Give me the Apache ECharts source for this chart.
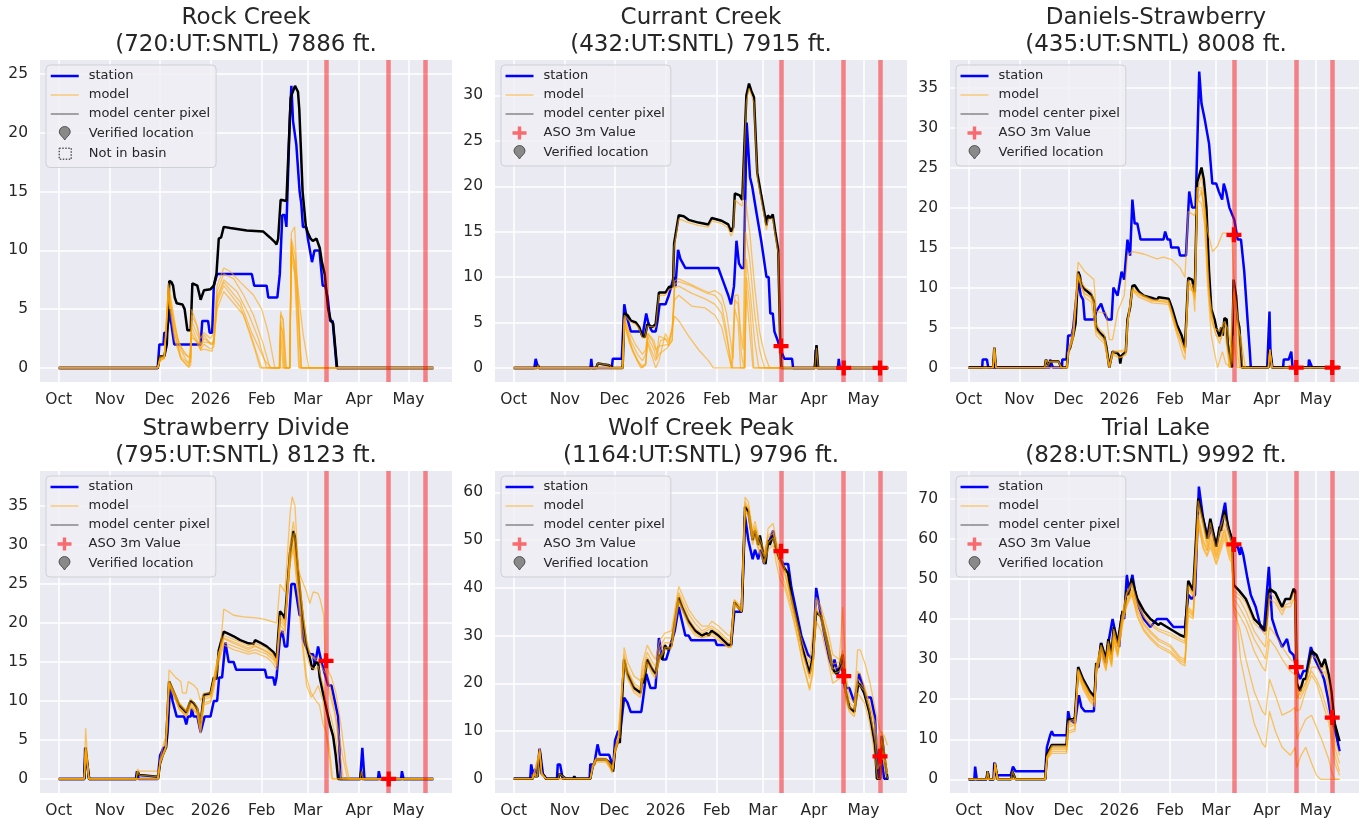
<!DOCTYPE html>
<html><head><meta charset="utf-8">
<script src="https://cdn.jsdelivr.net/npm/echarts@6/dist/echarts.min.js"></script>
<style>html,body{margin:0;padding:0;background:#fff}#chart{width:1359px;height:825px}</style>
</head><body><div id="chart"></div>
<script>
// x values are days since 2025-10-01
const monthTicks = ['2025-10-01','2025-11-01','2025-12-01','2026-01-01','2026-02-01','2026-03-01','2026-04-01','2026-05-01'];
const monthLabels = ['Oct','Nov','Dec','2026','Feb','Mar','Apr','May'];
const asoDates = ['2026-03-12','2026-04-19','2026-05-11'];

const titles = [
  'Rock Creek\n(720:UT:SNTL) 7886 ft.',
  'Currant Creek\n(432:UT:SNTL) 7915 ft.',
  'Daniels-Strawberry\n(435:UT:SNTL) 8008 ft.',
  'Strawberry Divide\n(795:UT:SNTL) 8123 ft.',
  'Wolf Creek Peak\n(1164:UT:SNTL) 9796 ft.',
  'Trial Lake\n(828:UT:SNTL) 9992 ft.'
];
const rockYTicks = [0,5,10,15,20,25];
const currantYTicks = [0,5,10,15,20,25,30];
const danielsYTicks = [0,5,10,15,20,25,30,35];
const strawYTicks = [0,5,10,15,20,25,30,35];
const wolfYTicks = [0,10,20,30,40,50,60];
const trialYTicks = [0,10,20,30,40,50,60,70];

const legendRock = ['station','model','model center pixel','Verified location','Not in basin'];
const legendAso = ['station','model','model center pixel','ASO 3m Value','Verified location'];

// ---------- Rock Creek ----------
const rockStation = [[0,0],[60,0],[61,2],[63.5,2],[64,3],[65.5,3],[67.5,5],[68,4],[69,4],[70,2],[86,2],[87,4],[90.5,4],[91.5,3],[93,3],[94,7],[96,8],[117,8],[118.5,7],[126,7],[127,6],[132.5,6],[134,8],[135.5,13],[137,13],[138,12],[140,21],[141,24],[142,21],[143,21],[144,19],[146,15],[147,14],[148,12],[150,12],[151,11],[153.5,9],[154,9],[155,10],[158,10],[160,7],[161.5,7],[163,6],[164.5,4],[166,4],[168.5,0],[227,0]];
const rockCenter = [[0,0],[60,0],[61.4,1],[64,1],[65.5,2],[67,7.4],[68.3,7.3],[69.3,7],[70.3,6],[71.5,5.5],[75,5.4],[76.3,5],[78,3.2],[80,3.2],[81,7.2],[84,7],[86,5.8],[88,6.6],[92,6.7],[94,7],[95.6,8],[97,11],[98.4,11.1],[100,12],[104,11.9],[114,11.7],[124,11.6],[128,11.1],[131,10.7],[132,10.5],[133,11],[134.5,14.3],[138,14.2],[140.6,23],[143.2,24],[145,23.5],[145.8,22],[147.8,15],[149.8,12],[151,11.5],[152.6,11],[154,10.8],[156.2,11],[158.2,10.2],[159.5,9],[161.2,8],[163.3,5],[164.9,4],[166.3,3.8],[168.7,0],[227,0]];
const rockModel = [
  [[0,0],[60,0],[61.4,0.8],[64,1],[66.5,7.2],[69,5],[72,2.5],[76,1.2],[80,0.8],[80.5,5],[83,4],[86,2.5],[88,3],[92,2.5],[94,3],[96,7],[100,8.5],[104,8.2],[110,7.3],[118,6.2],[123,5],[127,3],[131,0],[133.5,0],[134.5,4.5],[136,4.2],[138,0],[140,0],[141,11.5],[143,12],[145,6],[147,0],[227,0]],
  [[0,0],[60,0],[61.4,1],[64,1],[66.5,7],[69,4.5],[73,2],[78,1],[80,1],[80.5,4.5],[84,3.5],[86,2],[88,2.5],[93,2],[94,2.5],[96,6.5],[100,8],[106,7.6],[112,6.2],[118,4.5],[124,2],[128,0],[134,0],[134.5,4.8],[136,4],[137.5,0],[140,0],[141,11],[143.5,9.5],[145.5,4],[147,0],[227,0]],
  [[0,0],[60,0],[61.4,0.8],[64,0.8],[66.5,6.8],[70,3.5],[74,1.5],[78,0.5],[80,0.5],[80.5,4],[85,2.5],[86,1.5],[88,2.8],[92,2],[94,2],[96,6],[100,7.5],[108,6.5],[115,4.6],[121,2.5],[126,0],[134,0],[134.5,3.5],[136,3],[137,0],[140,0],[141,10.5],[144,8],[148,3],[151.5,0],[227,0]],
  [[0,0],[60,0],[61.4,0.6],[64,0.8],[66.5,6.5],[70,3],[74,1],[79,0.3],[80,0.3],[80.5,3.5],[86,1.6],[88,2],[92,1.6],[94,1.8],[96,5.5],[100,7],[110,5.2],[116,3],[121,0.8],[123,0],[134,0],[134.5,4],[135.5,3],[136.5,0],[140,0],[141,10],[143,9],[146,0],[227,0]],
  [[0,0],[60,0],[61.4,0.7],[64,0.8],[66.5,6],[70,2.5],[74,0.8],[78,0.2],[80,0.2],[80.5,3],[86,1.5],[88,1.6],[93,1.4],[94,1.5],[96,5],[100,6.5],[112,4.5],[119,1.5],[122,0],[140,0],[141,9.5],[143,8],[145.5,0],[227,0]],
  [[0,0],[60,0],[61.4,0.8],[64,0.9],[66.5,6.2],[70,3.2],[74,0.8],[79,0],[80,0],[80.5,2.6],[86,2],[88,2.2],[94,2.1],[96,5.8],[100,7.3],[110,5.6],[117,3],[125,0.6],[129,0],[134,0],[134.5,3],[136,0],[140,0],[141,10.8],[144,7],[147,0],[227,0]]
];

// ---------- Currant Creek ----------
const currantStation = [[0,0],[12.5,0],[13.3,1],[14,1],[14.8,0],[46.5,0],[47,1],[47.6,0],[59.5,0],[60,1],[65.5,1],[67,7],[68,6],[69.5,5],[71,4],[77,4],[78,3.5],[79,3.5],[80.3,6],[81.5,5],[83,4.3],[84,4],[86,4],[87,5],[88.4,7],[92,7],[94,8],[97,10],[98,9],[99.6,13],[101,12],[102.5,11.5],[104,11],[124,11],[126,10],[128,9],[130,8],[131.7,7],[133.5,9],[135,14],[136.5,11.5],[138,11],[139.5,11],[141.2,27],[143.2,21],[144.5,20],[147.2,17],[150,14],[153.2,10],[154.5,10],[155.5,6],[157,6],[158,4],[160,3],[161,2.4],[164,1],[168.7,1],[169.3,0],[182.5,0],[183,2],[183.7,0],[196.5,0],[197,1],[197.6,0],[227,0]];
const currantCenter = [[0,0],[14,0],[14.7,0.3],[15.5,0],[50,0],[51,0.5],[54,0.4],[58,0.3],[59.4,0],[66,0],[67,6],[69,5.8],[71,5.2],[74,5],[76,4.5],[78,3.5],[79.5,3.4],[81,4.8],[84,4.5],[86,4.8],[88,8.3],[92,8.3],[94,8.9],[96.5,9],[97.2,13.7],[98.4,13.8],[100,16.8],[103,16.7],[106,16.3],[112,16],[118,15.8],[120,16.5],[126,16.2],[130,15.8],[131.7,15],[133,15.5],[134,19.2],[137,19],[138.5,18.5],[141,30],[142.6,31.3],[144,30.5],[145.6,29.8],[147.6,21.5],[150,19],[152,17],[153.2,15.7],[154,16.8],[155.6,16.5],[157,16.9],[158.5,15],[160.3,13],[161.5,3],[162.2,0],[182.5,0],[183.5,2.5],[184.5,0],[227,0]];
const currantModel = [
  [[0,0],[14,0],[14.7,0.3],[15.5,0],[50,0],[51,0.5],[58,0.3],[59.4,0],[66,0],[67,5.8],[71,5],[74,4.8],[76,4.3],[78,3.3],[79.5,3.3],[81,4.6],[86,4.5],[88,8],[92,8],[94,8.6],[96.5,8.8],[97.2,13.3],[98.4,13.5],[100,16.4],[106,16],[112,15.7],[118,15.5],[120,16.2],[126,15.9],[130,15.4],[131.7,14.5],[133,15],[134,18.5],[138.5,17.8],[141,29.3],[142.6,30.8],[145.6,29.2],[147.6,21],[150,18.5],[152,16.5],[153.2,15.2],[154,16.3],[157,16.4],[158.5,14.6],[160.3,12.5],[161.5,2],[162.2,0],[182.5,0],[183.5,2.2],[184.5,0],[227,0]],
  [[0,0],[66,0],[67,5.6],[70,4],[74,2.5],[78,1.5],[80,2],[81,3.8],[84,3],[86,2],[88,2.4],[94,2.6],[96,3],[97.5,9.6],[100,9.8],[106,9.3],[112,8.8],[118,8.3],[122,8.5],[126,8],[129,6],[131,3.5],[133,1],[134,8],[136,8],[137.5,4],[139,2],[140.5,18.5],[143,15],[146,9],[149,4],[152,1.5],[155,0],[227,0]],
  [[0,0],[66,0],[67,5.4],[71,3],[75,1.5],[78,0.8],[80,1.5],[81,3.5],[85,2],[86.5,1],[88,3.5],[92,3.2],[94,2.8],[96,4],[97.5,9.2],[100,9.5],[108,9],[116,8.3],[122,8],[126,7],[129,4],[131,1],[132,0],[134,7.5],[136,7],[138,1.5],[139.5,0],[140.5,15],[143,12],[146,6],[149,2],[152,0],[227,0]],
  [[0,0],[66,0],[67,5.2],[72,2],[76,0.5],[78,0],[80,0.5],[81,3],[86,0.8],[88,1.5],[93,2.2],[96,3],[97.5,8.8],[100,9],[108,8.2],[116,7.6],[122,7],[126,6],[130,2.5],[132.5,0],[134,6.5],[136,5],[137.5,0],[140,0],[141,12],[143.5,8],[146,3],[148.5,0],[227,0]],
  [[0,0],[66,0],[67,5],[70,2.8],[75,0.8],[78,0.2],[80,0.5],[81,2.8],[86,0],[88,0.8],[92,3.8],[94,3],[96,4.5],[97.5,7.5],[100,8],[108,6.8],[116,6.6],[122,5.8],[126,4.5],[130,1.5],[132,0],[140,0],[141,10],[143,7],[145.5,0],[227,0]],
  [[0,0],[66,0],[67,4.8],[72,1.8],[77,0],[80,0.3],[81.5,3.8],[85,3],[87,1.5],[89,3],[92,3.2],[94,2.4],[97.5,5.7],[100,5.2],[106,3.5],[112,2],[118,0.8],[121,0],[140,0],[141,8.5],[143,4],[145,0],[227,0]]
];
const currantAso = [[162,2.4],[200,0],[222,0]];

// ---------- Daniels-Strawberry ----------
const danielsStation = [[0,0],[8.3,0],[8.6,1],[11.2,1],[12,0],[49.5,0],[49.8,1],[50.8,1],[51.5,0],[57,0],[57.2,1],[59.8,1],[60.8,4],[62.9,4],[63.9,5],[66.9,11],[68.5,9],[69.9,8.5],[70.9,6],[76.5,6],[77.9,7],[80.9,8],[82.5,7],[84.9,6],[87.3,6],[88.4,10],[91,9],[93.4,12],[95,11],[97,16],[98.6,14],[100,21],[101.4,18],[103,18],[105,16],[119,16],[120,17],[121.5,16],[123.1,16],[123.7,15],[128.1,15],[129.1,14],[132.7,14],[134.7,22],[136.5,20],[138.6,20],[140.8,37],[142.2,33],[144.2,31],[146.8,28],[148.8,23],[151.2,23],[152.8,22],[154.8,21],[155.8,23],[157.2,22],[159.2,20],[161.2,19],[162.2,18.5],[164.3,16],[166.3,16],[168.3,12],[170.3,6],[171.7,2],[172.3,0],[182.3,0],[183.7,7],[184.3,2],[185.5,0],[192,0],[192.4,1],[195.4,1],[197,2],[197.8,0],[207.5,0],[207.8,1],[209,1],[209.8,0],[227,0]];
const danielsCenter = [[0,0],[15,0],[15.7,2.5],[16.7,0],[46.5,0],[47.2,1],[48.8,0.3],[49.8,0.8],[54.8,0.8],[56.8,0],[60,0],[60.8,2],[62,2.5],[63.9,4],[65.3,5.5],[66.9,12],[67.9,11.5],[68.9,10.3],[70.9,9.8],[74.9,9.1],[76.5,8.3],[77.9,5],[79.9,4.4],[82.9,3.8],[84.2,2.5],[85.9,0],[86.9,0],[87.9,2],[91,1.8],[92,1.5],[92.6,0.5],[93.4,1.5],[96,2],[97,6],[98.6,7.5],[100,10.2],[101.4,10.3],[104,9.5],[107,9],[112,8.7],[115,8.5],[116,8.8],[122.1,8.6],[124.1,7.5],[127.1,5.4],[130.1,4],[132.1,2.5],[134.1,11.2],[136.5,11],[138.1,9.4],[139.6,23.2],[142.2,25],[143.6,23.5],[145.2,20],[146.8,12],[148.2,7.3],[150.2,6],[151.2,5],[153.2,3.9],[154.2,5],[155.2,4],[156.2,6.2],[157.6,6],[158.2,3],[160.8,0],[161.8,11],[163.3,9],[164.3,6],[165.3,5],[166.9,0],[183,0],[183.9,2.3],[185.3,0],[227,0]];
const danielsModel = [
  [[0,0],[15,0],[15.7,2.5],[16.7,0],[46.5,0],[47.2,1],[48.8,0.3],[49.8,0.8],[54.8,0.8],[56.8,0],[60,0],[60.8,2],[63.9,5],[66.9,13.2],[70.9,12],[74.9,11.3],[76.5,11],[77.9,7],[84,6.8],[85.9,3.5],[87.9,3.5],[91,7],[95,9],[97,14],[100,14.5],[107,14.2],[115,13.6],[119,13.8],[124,13.5],[129,12.5],[132.1,11.3],[134.1,19.5],[138.1,19],[140,21],[142.2,22],[144,20],[146,17],[149,14.5],[152,15.2],[155,16.8],[158,16.8],[160.8,16],[162.5,8],[164,2],[165.5,0],[183,0],[183.9,2.3],[185.3,0],[227,0]],
  [[0,0],[15,0],[15.7,2.5],[16.7,0],[46.5,0],[47.2,0.9],[49.8,0.7],[54.8,0.7],[56.8,0],[60,0],[60.8,1.8],[63.9,3.8],[66.9,11.7],[68.9,10],[70.9,9.3],[74.9,8.6],[76.5,7.8],[77.9,4.5],[82.9,3.3],[85.9,0],[87.9,1.8],[92,1.3],[93.4,1.3],[96,1.8],[97,5.6],[100,9.8],[104,9.1],[112,8.3],[116,8.4],[122.1,8.2],[127.1,4.8],[132.1,1.8],[134.1,10.6],[137,10.3],[138.1,8.5],[139.6,22.5],[142.2,22],[144,20],[146,12],[148.2,6.3],[151.2,4],[153.2,3],[156.2,5.5],[157.6,5],[159,0],[161.8,9.5],[163.3,8],[166,0],[183,0],[183.9,2.2],[185.3,0],[227,0]],
  [[0,0],[15,0],[15.7,2.4],[16.7,0],[60,0],[60.8,1.8],[63.9,3.5],[66.9,11.5],[70.9,8.8],[74.9,8.2],[77.9,4],[82.9,3],[85.9,0],[87.9,1.6],[92,1.2],[96,1.6],[97,5.3],[100,9.6],[104,8.8],[112,8.1],[122.1,7.9],[127.1,4.2],[131,1.5],[132.1,1],[134.1,10],[137,9.5],[138.1,7],[139.6,21],[142.2,20.5],[144,18],[146,10],[148.2,4],[150,2],[152,0],[155,2],[157,0.5],[160,0],[161.8,4],[164,0],[183,0],[183.9,2],[185.3,0],[227,0]],
  [[0,0],[15,0],[15.7,2.4],[16.7,0],[60,0],[60.8,2],[63.9,4.2],[66.9,11.8],[68.9,10.8],[70.9,10],[74.9,9.5],[76.5,8.5],[77.9,5.5],[80,4.8],[82.9,4.2],[84.5,2],[85.9,0],[87.9,2],[96,2.2],[97,5.8],[100,10],[104,9.3],[112,8.5],[122.1,8.4],[127.1,5],[132.1,2],[134.1,11],[138.1,8.8],[139.6,22],[142.2,24],[144,21],[146,11],[148.2,6],[151.2,4],[154,3.5],[156.2,5],[158,2],[159.5,0],[162,10],[165,5],[167.5,0],[183,0],[183.9,2.3],[185.3,0],[227,0]],
  [[0,0],[15,0],[15.7,2.3],[16.7,0],[60,0],[60.8,1.9],[63.9,4],[66.9,11.3],[70.9,9.2],[74.9,8.9],[76.5,8],[77.9,4.7],[82.9,3.5],[85.9,0.3],[87.9,1.9],[96,2],[97,5.5],[100,9.7],[106,9],[112,8.4],[122.1,8.1],[127.1,4.5],[132.1,2.2],[134.1,10.8],[138.1,9],[139.6,22.5],[142.2,22.5],[145,17],[147,9],[150,5],[153,4.5],[156.2,5.8],[158,5],[160,3],[161.5,0.5],[163,6],[166,4],[169,0],[183,0],[183.9,2.2],[185.3,0],[227,0]]
];
const danielsAso = [[162,16.6],[200,0],[222,0]];

// ---------- Strawberry Divide ----------
const strawStation = [[0,0],[15.5,0],[16,4],[17,4],[18.5,0],[46.8,0],[47.4,1],[48.4,0],[60,0],[61.4,3],[63.5,4],[65,4],[66,6],[67.5,12],[69,10],[71.5,8],[76,8],[77.3,7],[78.3,8],[80,8],[80.7,9],[81.7,8],[84,8],[86,6],[88.4,8],[92,8],[94,10],[96,10],[97.2,13],[99,13],[101,17.5],[103,15],[106,15],[107.6,14],[125,14],[126,13],[130,13],[131,12],[132,13],[134,18],[135.5,19],[137,17],[138.5,17],[141,25],[143,25],[146,21],[147.5,21],[148,18],[149.8,17],[152.2,16],[154.2,16],[155.2,14.5],[157.2,17],[159.2,15],[160.6,14],[163.3,12],[165.3,12],[167.3,10],[169.3,8],[170.3,3],[170.7,0],[182.7,0],[184,4],[185.3,0],[193.5,0],[194,1],[195,0],[207.5,0],[208,1],[209,0],[227,0]];
const strawCenter = [[0,0],[15.5,0],[16.3,4],[18.3,0],[47,0],[47.8,1],[48.8,0.5],[49.8,0.3],[59.8,0.3],[60.2,0],[61.4,2],[62.9,3],[64.9,4],[66.9,12.5],[68.9,11.5],[70.9,10.5],[72.9,9.5],[77.3,8.5],[78.5,8.5],[79.9,10],[81.9,9.7],[83.9,9],[85.9,7],[88,10.8],[92,11],[94,13],[95.6,12.8],[97,16.5],[98,16.5],[100,18.9],[102,18.7],[106,18.3],[110,17.8],[115,17.4],[118,17.3],[119,17.8],[122,17.5],[126,17],[130,16.3],[132.1,15.5],[134.1,21.5],[136.1,21],[137.1,20.5],[140.2,29],[142.2,31.8],[143.2,31],[145.2,26],[148.2,20],[150.2,17],[152.2,15.5],[153.8,14],[155.2,14.8],[157.2,15],[158.2,13],[160.2,11],[162.2,9],[164.3,7],[166.3,5.5],[167.9,3],[169.3,0],[182.8,0],[183.3,1],[184,0],[227,0]];
const strawModel = [
  [[0,0],[15.5,0],[16.3,6.5],[18.3,0],[47,0],[47.8,1],[49.8,1],[59.8,1],[60.2,0],[61.4,2.5],[62.9,4],[64.9,5.5],[66.9,14],[70.9,13],[74,12.5],[75,11],[77.3,11],[78.5,12.5],[81.9,12],[84,11.5],[85.9,10],[88,11],[92,11],[94,13],[96,15],[97.5,15.5],[100,21.8],[106,21],[112,20.8],[118,20.7],[122,20.6],[126,20.4],[132.1,20],[134.1,25],[137.1,24],[140.2,34],[141.5,36.2],[143.2,35],[145.2,27],[146.5,26],[150.2,24],[152.2,22.5],[154.2,24],[157.2,23.8],[158.5,23],[160.6,21],[161.5,15],[164,11],[168,8],[172,3],[175,0],[227,0]],
  [[0,0],[15.5,0],[16.3,3.8],[18.3,0],[47,0],[47.8,1.3],[48.8,0.5],[59.8,0.3],[60.2,0],[61.4,2],[64.9,3.8],[66.9,12.2],[70.9,10.2],[72.9,9.2],[77.3,8.2],[79.9,9.6],[83.9,8.7],[85.9,6.5],[88,10.2],[92,10.5],[94,12.5],[97,16],[100,18.1],[106,17.6],[115,16.8],[119,17.1],[126,16.4],[130,15.8],[132.1,15],[134.1,20.8],[137.1,19.8],[140.2,28.5],[142.2,31],[145.2,25],[148.2,19],[150.2,16],[152.2,14.5],[155.2,14],[157.2,14.5],[160.2,12],[162.2,10],[165,8],[168,5],[171,0],[227,0]],
  [[0,0],[15.5,0],[16.3,3.9],[18.3,0],[60.2,0],[61.4,2.2],[64.9,4],[66.9,12.3],[70.9,10.4],[72.9,9],[77.3,8],[79.9,9.3],[83.9,8.5],[85.9,6],[88,9.8],[92,10],[94,12],[97,15.5],[100,17.5],[106,17],[115,16.3],[119,16.6],[126,16],[130,15.3],[132.1,14.5],[134.1,19.8],[137.1,19],[140.2,28],[142.2,30],[145.2,24],[148.2,17],[150.2,13],[153,11],[156,10],[158,9.5],[160.2,7],[162.2,6],[164,4],[166,0],[227,0]],
  [[0,0],[15.5,0],[16.3,4],[18.3,0],[60.2,0],[61.4,2.3],[64.9,4.2],[66.9,12.6],[70.9,10.8],[72.9,9.8],[77.3,8.8],[79.9,10.3],[83.9,9.3],[85.9,7.5],[88,10.5],[92,10.8],[94,12.8],[97,16.2],[100,18],[106,17.4],[115,16.6],[119,17],[126,16.3],[130,15.6],[132.1,14.8],[134.1,20.3],[137.1,19.5],[140.2,29.5],[142.2,31.5],[145.2,26],[148.2,21],[150.2,18],[152.2,16],[155.2,15.5],[157.2,15.5],[160.2,14],[162.2,13.5],[164.3,12],[167,9],[170,4],[172.5,0],[227,0]],
  [[0,0],[15.5,0],[16.3,3.8],[18.3,0],[60.2,0],[61.4,2],[64.9,4],[66.9,12],[70.9,10],[72.9,9],[77.3,8],[79.9,9.2],[83.9,8.3],[85.9,5.8],[88,9.5],[92,9.8],[94,11.5],[97,15],[100,17.2],[106,16.6],[115,16],[119,16.2],[126,15.6],[130,14.8],[132.1,14],[134.1,19.2],[137.1,18.5],[140.2,27.5],[142.2,29.5],[145.2,23],[148.2,16],[150.2,12],[153,10.5],[155,11],[157.2,12],[160.2,10],[162.2,5.5],[164,3],[165.5,0],[227,0]],
  [[0,0],[15.5,0],[16.3,4],[18.3,0],[60.2,0],[61.4,2.2],[64.9,4.1],[66.9,12.4],[70.9,10.6],[72.9,9.6],[77.3,8.6],[79.9,9.8],[83.9,9],[85.9,7],[88,10.6],[92,10.7],[94,12.7],[97,16.2],[100,18.4],[106,17.9],[115,17.1],[119,17.4],[126,16.8],[130,16],[132.1,15.2],[134.1,21],[137.1,20.2],[140.2,30],[142.2,33],[145.2,27.5],[148.2,21],[150.2,17.5],[152.2,16],[155.2,15.3],[158,15],[160.6,15],[163,14],[165.3,13],[168,11],[171,7],[174,2],[176,0],[182.7,0],[183.5,1],[184.5,0],[227,0]]
];
const strawAso = [[162,15.15],[200,0]];

// ---------- Wolf Creek Peak ----------
const wolfStation = [[0,0],[10,0],[10.6,3],[11.6,1],[13.1,2],[14.1,1],[15.7,6.3],[17.7,1],[18.9,1],[19.7,0],[26.2,0],[26.7,3],[28.1,3],[29.7,0],[46,0],[46.4,3],[48.8,3],[50.8,7.2],[52.2,5],[57.8,5],[58.8,4],[60.2,2],[61.4,8],[63.3,10],[64.3,9],[66.9,17],[68.9,16],[70.9,14],[77.3,14],[78.5,17],[80.3,22],[82.9,19],[85.9,19],[88,29.5],[90,25],[92.4,25],[95,28],[97.6,31],[100,36],[102,33],[104,30],[106,30],[107.6,29],[122.1,29],[123.1,28],[131.7,28],[133.7,35],[138.2,35],[140.2,55],[142.2,50],[144.8,46],[146.2,48],[148.2,46],[149.6,48],[151.8,45],[153.6,49],[155.2,50],[157.2,52],[159.2,48],[163.3,45],[166.3,45],[168.3,40],[171.3,35],[174.3,30],[178.3,26],[181.3,25],[183.3,40],[185.3,36],[188.4,30],[191.4,25],[193.4,23],[194.4,25],[196.4,22],[198.4,24],[200.8,19],[203.4,19],[206.4,16],[208.4,20],[209.4,22],[213.5,17],[216.5,17],[218.9,13],[220.9,0],[222,0],[223,4],[224.5,0],[227,0]];
const wolfCenter = [[0,0],[11.5,0],[12,1],[13,0.5],[14.5,0.5],[15.7,6],[17,1],[18.7,0.5],[19.5,0],[27,0],[27.7,1],[29.7,0.5],[31.7,0],[36,0],[36.7,0.5],[37.5,0],[46.4,0],[47.8,2.5],[49.8,4],[55.8,4],[57.8,3.5],[59.8,2],[60.2,1.5],[61.4,6],[63.3,8],[64.3,7.5],[66.9,25],[68.9,22],[72.9,19],[76.9,18],[77.9,21],[78.9,20],[80.9,25],[83.9,23],[85.9,22],[88.4,26],[90,25],[91.6,28],[93.6,27],[95.6,28],[96.4,30],[100,38],[102,36],[106,33],[110,31],[114,30],[117.1,30.5],[118,30],[120,31],[124.1,30],[130.1,28],[131.7,28],[133.7,37],[138.2,35],[140.2,57],[142.2,56],[144.8,50],[146.2,52],[148.2,49],[149.2,51],[151.8,46],[152.6,45],[154.2,50],[155.2,49],[157.2,51],[159.2,48],[161.2,46],[164.3,44],[166.3,43],[168.3,38],[172.3,32],[175.3,27],[179.3,22],[181.3,26],[183.3,35],[186.3,34],[190.4,28],[193.4,23],[195.4,22],[197.4,23],[198.4,25],[199.4,26],[201.4,18],[203.4,15],[206.4,14],[208.4,19],[209.4,20],[212.4,18],[215.5,14],[217.5,10],[218.9,7],[220.1,0],[222.1,0],[223.1,9],[224.5,5],[226.5,0],[227,0]];
const wolfModel = [
  [[0,0],[11.5,0],[12,1.2],[13,0.6],[14.5,0.6],[15.7,6.5],[17,1.2],[19.5,0],[46.4,0],[47.8,2.8],[49.8,4.3],[55.8,4.3],[59.8,2.5],[60.2,2],[61.4,6.5],[63.3,9],[64.3,8.5],[66.9,27.5],[68.9,24.5],[72.9,21.5],[76.9,20.5],[77.9,24],[80.9,28],[83.9,26],[85.9,25],[88.4,29],[91.6,30.5],[95.6,31],[100,40.3],[106,35.5],[110,33.5],[114,32],[118,32],[120,33],[124.1,32],[130.1,30],[131.7,30],[133.7,37.5],[138.2,36],[140.2,59],[142.2,58],[144.8,52],[146.2,54],[148.2,51],[151.8,48],[152.6,47],[154.2,52.5],[157.2,53.5],[159.2,50],[161.2,47],[164.3,44],[168.3,38],[172.3,32],[175.3,28],[179.3,24],[183.3,38],[186.3,36],[190.4,31],[193.4,26],[197.4,25],[199.4,36],[201.4,22],[203.4,17],[206.4,16],[208.4,27],[210,27],[213,24],[216,20],[218.9,15],[222,10],[224.5,9],[226.5,7]],
  [[0,0],[11.5,0],[12,1],[13,0.5],[14.5,0.5],[15.7,6.2],[17,1],[19.5,0],[46.4,0],[47.8,2.6],[49.8,4.1],[55.8,4.1],[59.8,2.2],[61.4,6.3],[63.3,8.5],[66.9,26],[68.9,23],[72.9,20],[76.9,19],[77.9,22.5],[80.9,26.5],[83.9,24.5],[85.9,23.5],[88.4,27.5],[91.6,29.5],[95.6,29.5],[100,39],[106,34.5],[110,32.5],[114,31],[120,32],[124.1,31],[130.1,29],[131.7,29],[133.7,36.5],[138.2,35.5],[140.2,58],[142.2,57],[144.8,51],[146.2,53],[148.2,50],[151.8,47],[154.2,51],[157.2,52],[159.2,49],[161.2,46],[164.3,43],[168.3,37],[172.3,31],[175.3,26],[179.3,21.5],[181.3,25],[183.3,37.5],[186.3,35],[190.4,29],[193.4,24],[197.4,24.5],[199.4,27],[201.4,19],[203.4,16],[206.4,15],[208.4,22.5],[210,22],[213,19],[216,15],[218.9,12],[221,6],[223.1,5],[224.5,4],[226.5,3]],
  [[0,0],[11.5,0],[12,0.8],[13,0.4],[15.7,5.5],[17,0.8],[19.5,0],[46.4,0],[47.8,2.2],[49.8,3.5],[55.8,3.5],[57.8,2.5],[59.8,1.2],[61.4,5.5],[63.3,7.5],[66.9,24],[68.9,21],[72.9,18],[76.9,17],[77.9,20],[80.9,24],[83.9,22],[85.9,21],[88.4,25],[91.6,27],[95.6,27.3],[100,37],[106,32],[110,30],[114,29.5],[120,30],[124.1,29],[130.1,27.5],[131.7,27.8],[133.7,36.5],[138.2,35],[140.2,56],[142.2,55],[144.8,49],[146.2,51],[148.2,48],[151.8,45],[154.2,48],[157.2,49],[159.2,45],[161.2,42],[164.3,40],[168.3,35],[172.3,29],[175.3,24],[179.3,19],[181.3,23],[183.3,33],[186.3,31],[190.4,25],[193.4,20],[197.4,21],[199.4,23],[201.4,16],[203.4,14],[206.4,13],[208.4,18],[212.4,16],[215.5,12],[217.5,8],[219,4],[220.5,0],[222.1,0],[223.1,6],[224.5,3],[226.5,0]],
  [[0,0],[11.5,0],[12,0.8],[15.7,5.8],[17,0.8],[19.5,0],[46.4,0],[47.8,2.3],[49.8,3.8],[55.8,3.8],[59.8,1.5],[61.4,5.8],[63.3,7.8],[66.9,24.5],[68.9,21.5],[72.9,18.5],[76.9,17.5],[77.9,20.5],[80.9,24.5],[83.9,22.5],[85.9,21.5],[88.4,25.5],[91.6,27.5],[95.6,27.5],[100,37.5],[106,32.5],[110,30.5],[114,29.5],[120,30.5],[124.1,29.5],[130.1,27.5],[131.7,27.5],[133.7,37],[138.2,35],[140.2,56.5],[142.2,55.5],[144.8,50],[146.2,52],[148.2,48.5],[151.8,45.5],[154.2,49.5],[157.2,50.5],[159.2,47],[161.2,44],[164.3,41],[168.3,36],[172.3,29.5],[175.3,24],[179.3,18.5],[181.3,22],[183.3,36],[186.3,33],[190.4,27],[193.4,22],[197.4,22.5],[199.4,24],[201.4,17],[203.4,14.5],[206.4,13.5],[208.4,21],[212.4,19],[215.5,16],[217.5,13],[219,10],[221,5],[223.1,8],[224.5,4],[226.5,1]],
  [[0,0],[11.5,0],[12,1],[13,0.5],[15.7,6],[17,1],[19.5,0],[27,0],[27.7,1],[29.7,0.5],[31.7,0],[46.4,0],[47.8,2.5],[49.8,4],[55.8,4],[59.8,2],[61.4,6],[63.3,8],[66.9,25.5],[68.9,22.5],[72.9,19.5],[76.9,18.5],[77.9,21.5],[80.9,25.5],[83.9,23.5],[85.9,22.5],[88.4,26.5],[91.6,28.5],[95.6,28.5],[100,38.5],[106,33.5],[110,31.5],[114,30.5],[120,31.5],[124.1,30.5],[130.1,28.5],[131.7,28.5],[133.7,37.5],[138.2,35.5],[140.2,57.5],[142.2,56.5],[144.8,50.5],[146.2,52.5],[148.2,49.5],[151.8,46.5],[154.2,50.5],[157.2,51.5],[159.2,48.5],[161.2,45.5],[164.3,43],[168.3,37.5],[172.3,31],[175.3,26],[179.3,21],[181.3,25],[183.3,35.5],[186.3,34],[190.4,28],[193.4,23],[197.4,23.5],[199.4,26],[201.4,18],[203.4,15],[206.4,14.5],[208.4,20],[212.4,18.5],[215.5,14.5],[217.5,11],[219,8],[220.5,2],[222.1,3],[223.1,10],[224.5,6],[226.5,1]]
];
const wolfAso = [[162,47.7],[200,21.5],[222,4.7]];

// ---------- Trial Lake ----------
const trialStation = [[0,0],[3.5,0],[4,3.2],[5,0],[11,0],[11.6,2],[12.5,0],[15.2,0],[15.7,4.2],[17.1,1],[25.7,1],[27.1,3.2],[28.7,2],[46.8,2],[47.8,8],[49.8,11],[50.8,12],[51.8,11],[59.8,11],[60.8,17],[61.8,15],[64.9,14],[67.3,21],[68.9,18],[70.9,17],[76.5,17],[77.9,28],[79.3,28],[80.9,34],[82.9,30],[83.9,29],[85.3,34],[87.9,40],[89.9,36],[91.9,33],[93.4,41],[95,40],[96.6,51],[98,47],[100,51],[102,46],[104,43],[107,40],[111,38],[115.1,40],[121.1,40],[125.1,38],[132.1,38],[134.1,46],[136.1,45],[138.2,46],[140.6,73],[143.2,65],[146.2,60],[148.2,63],[151.2,58],[153.2,62],[156.6,69],[158.2,63],[160.2,60],[162.2,58],[164.3,58],[165.7,56],[166.3,58],[167.7,56],[170.3,50],[172.3,46],[175.3,43],[178.3,38],[180.3,37],[183.3,53],[185.3,40],[188.4,36],[191.4,33],[194.4,35],[196,32],[198.4,31],[199.8,28],[202.4,25],[204.4,27],[206.4,27],[209,33],[211.4,30],[215,27],[217,25],[219.5,20],[221.5,15],[224.5,11],[226.5,7]];
const trialCenter = [[0,0],[11,0],[11.6,2],[12.5,0],[15.5,0],[16.1,4],[17.7,0],[26,0],[26.7,2],[28.7,0],[46.8,0],[47.8,6],[48.8,7],[50.8,8.6],[59.8,8.6],[60.8,15],[63.9,15],[64.9,15.5],[66.9,28],[69.9,25],[73.9,22],[76.9,20.5],[77.9,29],[78.9,28],[80.9,34],[83.9,30],[85.3,35],[87.3,31],[88.6,38],[91,34],[94,42],[95,41],[96.4,47],[97.6,46],[99.6,50],[103,45],[107,42],[111,40],[116,38.5],[117.1,39],[123.1,37.5],[129.1,36],[132.1,35.5],[134.1,49.5],[137.1,47],[140.2,70],[143.2,65],[145.6,60],[147.6,65],[151.2,58],[153.2,63],[154.2,62],[156.2,67],[159.2,62],[160.8,60],[161.8,48.5],[165.3,47],[169.3,45],[174.3,40],[179.3,38],[181.3,37],[183.7,47.5],[187.3,46.5],[191.4,43],[193.4,45],[196.4,45],[198.4,47.5],[199.4,47],[200.4,24],[202.4,22],[204.4,25],[205.8,25],[209.4,32],[212.4,31],[215.5,28],[217.5,30],[219.9,26],[221.5,22],[223.5,14],[226.5,9.5]];
const trialModel = [
  [[0,0],[11,0],[11.6,2],[12.5,0],[15.5,0],[16.1,4],[17.7,0],[26,0],[26.7,2],[28.7,0],[46.8,0],[47.8,5.5],[48.8,6.5],[50.8,8.4],[59.8,8.4],[60.8,14.5],[64.9,15],[66.9,27.5],[69.9,24.5],[73.9,21.5],[76.9,20],[77.9,28.5],[80.9,33.5],[83.9,29.5],[85.3,34.5],[87.3,30.5],[88.6,37.5],[91,33.5],[94,41.5],[96.4,46.5],[99.6,49],[103,44],[107,41],[111,39],[116,37.5],[123.1,36.5],[129.1,35],[132.1,34.5],[134.1,48.5],[137.1,46],[140.2,69.5],[143.2,64],[145.6,59],[147.6,64],[151.2,57],[153.2,62],[156.2,66],[159.2,61],[160.8,59],[161.8,47],[165.3,46],[169.3,44],[174.3,39],[179.3,37],[181.3,36],[183.7,46.5],[187.3,45],[191.4,42],[193.4,43.5],[196.4,44],[198.4,46.5],[199.4,46],[200.4,23],[202.4,21],[205.8,24],[209.4,31],[212.4,30],[215.5,27],[217.5,28.5],[219.9,24],[221.5,18],[223.5,10],[226.5,6]],
  [[0,0],[11,0],[11.6,2],[12.5,0],[15.5,0],[16.1,3.8],[17.7,0],[46.8,0],[47.8,5],[50.8,7],[59.8,7],[60.8,12],[64.9,12.5],[66.9,26.5],[69.9,23],[73.9,20],[76.9,18.5],[77.9,26.5],[80.9,31.5],[83.9,27.5],[85.3,32],[87.3,28.5],[88.6,35],[91,31],[94,39],[96.4,43.5],[99.6,46.5],[103,41],[107,37.5],[111,35.5],[116,33.5],[123.1,32],[129.1,29.5],[132.1,29],[134.1,42],[137.1,40.5],[140.2,64.5],[143.2,58],[145.6,56],[147.6,59],[151.2,54],[153.2,57],[156.2,61],[159.2,56],[160.8,54.5],[161.8,43],[165.3,41],[169.3,38],[174.3,32],[179.3,28],[181.3,27],[183.7,35],[187.3,33],[191.4,30],[196.4,27],[199.4,26],[200.4,17],[202.4,17.5],[205.8,22],[209.4,26],[212.4,24],[215.5,20],[219.9,14],[221.5,10],[223.5,4],[226.5,1]],
  [[0,0],[15.5,0],[16.1,3.8],[17.7,0],[46.8,0],[47.8,5],[50.8,6.5],[59.8,6.5],[60.8,11.5],[64.9,12],[66.9,26],[69.9,22.5],[73.9,19.5],[76.9,18],[77.9,26],[80.9,31],[83.9,27],[85.3,31.5],[87.3,28],[88.6,34.5],[91,30.5],[94,38.5],[96.4,43],[99.6,46],[103,40.5],[107,37],[111,35],[116,33],[123.1,31.5],[129.1,29],[132.1,28.3],[134.1,41],[137.1,40],[140.2,63.5],[143.2,57.5],[145.6,55.5],[147.6,58],[151.2,53.5],[153.2,56],[156.2,60],[159.2,55],[160.8,54],[161.8,42],[165.3,38],[169.3,30],[174.3,22],[179.3,17],[181.3,16],[183.7,25],[187.3,21],[191.4,16],[196.4,17],[199.4,18],[200.4,10],[202.4,12],[205.8,15],[209.4,16],[212.4,13],[215.5,10],[219.9,5],[221.5,2],[223.5,0],[226.5,0]],
  [[0,0],[15.5,0],[16.1,4],[17.7,0],[46.8,0],[47.8,5.5],[50.8,7.5],[59.8,7.5],[60.8,13],[64.9,13.5],[66.9,27],[69.9,23.5],[73.9,20.5],[76.9,19],[77.9,27],[80.9,32],[83.9,28],[85.3,32.5],[87.3,29],[88.6,35.5],[91,31.5],[94,39.5],[96.4,44],[99.6,47],[103,42],[107,38.5],[111,36.5],[116,34.5],[123.1,33],[129.1,30],[132.1,29.5],[134.1,42.5],[137.1,41],[140.2,65],[143.2,59],[145.6,57],[147.6,60],[151.2,55],[153.2,58],[156.2,62],[159.2,57],[160.8,55],[161.8,44],[163.5,42],[166,30],[170,22],[174.3,14],[179.3,9],[181.3,8],[183.7,17],[187.3,12],[191.4,8],[196.4,6],[199.4,8],[200.4,3],[203,6],[205.8,8],[209.4,4],[212.4,1],[215,0],[226.5,0]],
  [[0,0],[15.5,0],[16.1,4],[17.7,0],[46.8,0],[47.8,5.8],[50.8,8],[59.8,8],[60.8,14],[64.9,14.5],[66.9,27.3],[69.9,24],[73.9,21],[76.9,19.5],[77.9,28],[80.9,33],[83.9,29],[85.3,34],[87.3,30],[88.6,37],[91,33],[94,41],[96.4,46],[99.6,48.5],[103,43.5],[107,40.5],[111,38.5],[116,37],[123.1,35.8],[129.1,34.5],[132.1,34],[134.1,48],[137.1,45.5],[140.2,68],[143.2,63],[145.6,58],[147.6,62.5],[151.2,56],[153.2,60],[156.2,64],[159.2,60],[160.8,58],[161.8,46],[165.3,45],[169.3,42],[174.3,37],[179.3,34],[181.3,33],[183.7,45],[187.3,44],[191.4,41],[193.4,43],[196.4,43],[198.4,45],[199.4,44],[200.4,21],[202.4,20],[205.8,23],[209.4,28],[212.4,28],[215.5,26],[217.5,27],[219.9,22],[221.5,16],[223.5,8],[226.5,4]],
  [[0,0],[15.5,0],[16.1,3.9],[17.7,0],[46.8,0],[47.8,5.3],[50.8,7.8],[59.8,7.8],[60.8,13.5],[64.9,14],[66.9,27],[69.9,23.8],[73.9,20.8],[76.9,19.2],[77.9,27.5],[80.9,32.5],[83.9,28.5],[85.3,33],[87.3,29.5],[88.6,36],[91,32],[94,40],[96.4,44.5],[99.6,47.5],[103,42.5],[107,39],[111,37],[116,35],[123.1,33.5],[129.1,30.5],[132.1,30],[134.1,43],[137.1,41.5],[140.2,66],[143.2,60],[145.6,57],[147.6,61],[151.2,55.5],[153.2,58.5],[156.2,62.5],[159.2,58],[160.8,56],[161.8,45],[165.3,43],[169.3,40],[174.3,35],[179.3,31.5],[181.3,30],[183.7,38],[187.3,36],[191.4,33],[196.4,30],[199.4,29],[200.4,20],[202.4,22],[205.8,24],[209.4,27],[212.4,25],[215.5,22],[219.9,16],[221.5,12],[223.5,6],[226.5,2]]
];
const trialAso = [[162,58.6],[200,28],[222,15.4]];

// ================== chart building ==================
const FONT = 'DejaVu Sans';
const TXT = '#262626';
const DAY = 86400000;
const utcDay = s => { const p = s.split('-').map(Number); return Date.UTC(p[0], p[1]-1, p[2]) / DAY; };
const d0 = utcDay('2025-10-01');
const monthTickDays = monthTicks.map(s => utcDay(s) - d0);
const asoDays = asoDates.map(s => utcDay(s) - d0);
const monthLabel = v => { const i = monthTickDays.findIndex(t => Math.abs(t - v) < 0.5); return i >= 0 ? monthLabels[i] : ''; };

const panels = [
  {title: titles[0], st: rockStation, ce: rockCenter, mo: rockModel, aso: null, y: [-1.2, 26.2], ticks: rockYTicks, leg: legendRock},
  {title: titles[1], st: currantStation, ce: currantCenter, mo: currantModel, aso: currantAso, y: [-1.55, 33.9], ticks: currantYTicks, leg: legendAso},
  {title: titles[2], st: danielsStation, ce: danielsCenter, mo: danielsModel, aso: danielsAso, y: [-1.8, 38.45], ticks: danielsYTicks, leg: legendAso},
  {title: titles[3], st: strawStation, ce: strawCenter, mo: strawModel, aso: strawAso, y: [-1.8, 39.5], ticks: strawYTicks, leg: legendAso},
  {title: titles[4], st: wolfStation, ce: wolfCenter, mo: wolfModel, aso: wolfAso, y: [-3, 64.5], ticks: wolfYTicks, leg: legendAso},
  {title: titles[5], st: trialStation, ce: trialCenter, mo: trialModel, aso: trialAso, y: [-3.4, 76.9], ticks: trialYTicks, leg: legendAso}
];

const colLeft = [40, 495, 950], rowTop = [60, 471], GW = 412, GH = 322;
const MODEL_COLOR = 'rgba(255,165,0,0.6)';

const ICONS = {
  'station': {icon: 'path://M0,0M0,5.75h28v2.5h-28zM33,14', itemStyle: {color: '#0000FF', borderWidth: 0}},
  'model': {icon: 'path://M0,0M0,6.25h28v1.5h-28zM33,14', itemStyle: {color: 'rgba(255,165,0,0.5)', borderWidth: 0}},
  'model center pixel': {icon: 'path://M0,0M0,6.5h28v1h-28zM33,14', itemStyle: {color: '#555555', borderWidth: 0}},
  'ASO 3m Value': {icon: 'path://M0,0M12.3,0.5H15.7V5.3H21V8.7H15.7V13.5H12.3V8.7H7V5.3H12.3ZM33,14', itemStyle: {color: 'rgba(255,0,0,0.55)', borderWidth: 0}},
  'Verified location': {icon: 'path://M0,0M8.5,5.5A5.5,5.5,0,1,1,19.5,5.5C19.5,8.5,15.5,10.5,14,13.5C12.5,10.5,8.5,8.5,8.5,5.5ZM33,14', itemStyle: {color: '#6f6f6f', borderColor: '#3c3c3c', borderWidth: 1}},
  'Not in basin': {icon: 'path://M0,0M8.5,1.5H20.5V12.5H8.5ZM33,14', itemStyle: {color: 'rgba(0,0,0,0)', borderColor: '#333333', borderWidth: 1.5, borderType: 'dotted'}}
};

const grid = [], xAxis = [], yAxis = [], series = [], legend = [], title = [];
panels.forEach((p, i) => {
  const left = colLeft[i % 3], top = rowTop[Math.floor(i / 3)];
  grid.push({left: left, top: top, width: GW, height: GH, show: true, backgroundColor: '#EAEAF2', borderWidth: 0, containLabel: false});
  xAxis.push({type: 'value', gridIndex: i, min: -11.35, max: 238.35,
    axisLine: {show: false}, axisTick: {show: false, customValues: monthTickDays},
    splitLine: {show: true, lineStyle: {color: '#ffffff', width: 1.5}},
    axisLabel: {customValues: monthTickDays, formatter: monthLabel, color: TXT, fontSize: 15.5, fontFamily: FONT, margin: 10, hideOverlap: false}});
  yAxis.push({type: 'value', gridIndex: i, min: p.y[0], max: p.y[1],
    axisLine: {show: false}, axisTick: {show: false, customValues: p.ticks},
    splitLine: {show: true, lineStyle: {color: '#ffffff', width: 1.5}},
    axisLabel: {customValues: p.ticks, color: TXT, fontSize: 15.5, fontFamily: FONT, margin: 12}});
  title.push({text: p.title, left: left + GW / 2, top: top - 55, textAlign: 'center', padding: 0,
    textStyle: {fontSize: 23, fontWeight: 'normal', color: TXT, fontFamily: FONT, lineHeight: 27}});
  legend.push({orient: 'vertical', left: left + 6, top: top + 5, padding: [4, 6, 6, 4], itemGap: 5,
    itemWidth: 33, itemHeight: 14, backgroundColor: 'rgba(238,238,245,0.85)', borderColor: '#cfcfd6', borderWidth: 1, borderRadius: 4,
    selectedMode: false, textStyle: {fontSize: 13, color: TXT, fontFamily: FONT},
    data: p.leg.map(n => Object.assign({name: n}, ICONS[n]))});

  series.push({name: 'station', type: 'line', xAxisIndex: i, yAxisIndex: i, data: p.st,
    symbol: 'none', lineStyle: {color: '#0000FF', width: 2.5}, itemStyle: {color: '#0000FF'}, z: 2,
    markLine: {silent: true, z: 5, symbol: ['none', 'none'], label: {show: false},
      lineStyle: {color: 'rgba(255,0,0,0.45)', width: 4.5, type: 'solid'},
      data: asoDays.map(t => ({xAxis: t}))}});
  series.push({name: 'model center pixel', type: 'line', xAxisIndex: i, yAxisIndex: i, data: p.ce,
    symbol: 'none', lineStyle: {color: '#000000', width: 2.5}, itemStyle: {color: '#000000'}, z: 3});
  p.mo.forEach(m => series.push({name: 'model', type: 'line', xAxisIndex: i, yAxisIndex: i, data: m,
    symbol: 'none', lineStyle: {color: MODEL_COLOR, width: 1.3}, itemStyle: {color: MODEL_COLOR}, z: 4}));
  if (p.aso) series.push({name: 'ASO 3m Value', type: 'scatter', xAxisIndex: i, yAxisIndex: i, data: p.aso,
    symbol: 'path://M5,0H9V5H14V9H9V14H5V9H0V5H5Z', symbolSize: 15, itemStyle: {color: '#ff0000', opacity: 1}, z: 10});
});
series.push({name: 'Verified location', type: 'scatter', xAxisIndex: 0, yAxisIndex: 0, data: [], itemStyle: {color: '#6f6f6f'}});
series.push({name: 'Not in basin', type: 'scatter', xAxisIndex: 0, yAxisIndex: 0, data: [], itemStyle: {color: '#333333'}});

const chart = echarts.init(document.getElementById('chart'), null, {renderer: 'canvas'});
chart.setOption({animation: false, backgroundColor: '#ffffff', title, legend, grid, xAxis, yAxis, series});
</script></body></html>
